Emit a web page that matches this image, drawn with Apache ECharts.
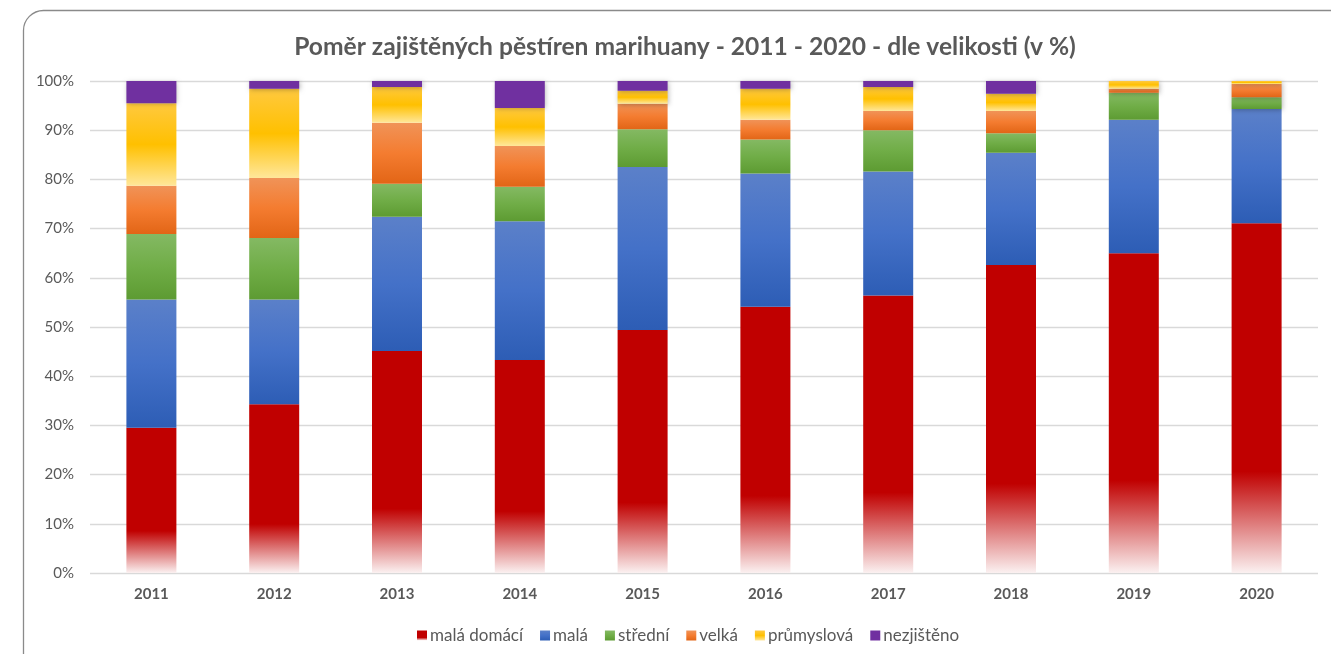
<!DOCTYPE html>
<html>
<head>
<meta charset="utf-8">
<script src="https://cdn.jsdelivr.net/npm/echarts@6/dist/echarts.min.js"></script>
<style>
  html, body { margin: 0; padding: 0; background: #fff; }
  #chart { width: 1331px; height: 654px; }
</style>
</head>
<body>
<div id="chart"></div>
<script>
// roky
var years = ['2011', '2012', '2013', '2014', '2015', '2016', '2017', '2018', '2019', '2020'];

// podíly dle velikosti (v %)
var malaDomaci = [29.5, 34.3, 45.1, 43.3, 49.4, 54.1, 56.4, 62.6, 65.0, 71.1];
var mala       = [26.1, 21.3, 27.3, 28.2, 33.1, 27.1, 25.2, 22.8, 27.1, 23.2];
var stredni    = [13.3, 12.5,  6.7,  7.0,  7.7,  6.9,  8.4,  4.0,  5.5,  2.4];
var velka      = [ 9.8, 12.2, 12.4,  8.3,  5.2,  4.0,  3.9,  4.5,  0.8,  2.7];
var prumyslova = [16.8, 18.1,  7.3,  7.7,  2.6,  6.3,  4.9,  3.5,  1.6,  0.6];
var nezjisteno = [ 4.5,  1.6,  1.2,  5.5,  2.0,  1.6,  1.2,  2.6,  0.0,  0.0];

var yTicks = [0, 10, 20, 30, 40, 50, 60, 70, 80, 90, 100];

var myChart = echarts.init(document.getElementById('chart'));

function grad(stops) {
    return new echarts.graphic.LinearGradient(0, 0, 0, 1, stops.map(function (s) {
        return { offset: s[0], color: s[1] };
    }));
}

var fills = [
    grad([[0, '#c00000'], [0.71, '#c00000'], [1, '#fbf1f1']]),
    grad([[0, '#5b80c9'], [0.5, '#4471c8'], [1, '#2d5db5']]),
    grad([[0, '#84b963'], [0.5, '#70ad47'], [1, '#5d9b32']]),
    grad([[0, '#f09358'], [0.5, '#f47c30'], [1, '#e26516']]),
    grad([[0, '#ffc93f'], [0.5, '#ffc000'], [1, '#ffe79a']]),
    '#7030a0'
];
var names = ['malá domácí', 'malá', 'střední', 'velká', 'průmyslová', 'nezjištěno'];
var values = [malaDomaci, mala, stredni, velka, prumyslova, nezjisteno];

var series = names.map(function (n, i) {
    return {
        name: n,
        type: 'bar',
        stack: 'total',
        barWidth: 50,
        data: values[i],
        itemStyle: {
            color: fills[i],
            shadowColor: 'rgba(0,0,0,0.28)',
            shadowBlur: 5,
            shadowOffsetX: 1,
            shadowOffsetY: 1
        }
    };
});

var font = 'Lato, "Open Sans", sans-serif';

var option = {
    textStyle: { fontFamily: font },
    graphic: [{
        type: 'rect',
        shape: { x: 23.5, y: 10.5, width: 1340, height: 670, r: 20 },
        style: { fill: 'none', stroke: '#8a8a8a', lineWidth: 1.3 },
        silent: true
    }],
    title: {
        text: 'Poměr zajištěných pěstíren marihuany - 2011 - 2020 - dle velikosti (v %)',
        left: 680,
        textAlign: 'center',
        top: 30,
        textStyle: { fontFamily: font, fontSize: 24.6, fontWeight: 'bold', color: '#595959' }
    },
    legend: {
        top: 622,
        left: 412,
        icon: 'rect',
        itemWidth: 10,
        itemHeight: 10,
        itemGap: 17,
        textStyle: { fontFamily: font, fontSize: 17, color: '#595959', padding: [0, 0, 0, -2] },
        data: names
    },
    grid: { left: 90, right: 13, top: 81, bottom: 81 },
    xAxis: {
        type: 'category',
        data: years,
        axisLine: { show: false },
        axisTick: { show: false },
        axisLabel: { fontFamily: font, fontSize: 15, fontWeight: 'bold', color: '#595959', margin: 14 }
    },
    yAxis: {
        type: 'value',
        min: yTicks[0],
        max: yTicks[yTicks.length - 1],
        interval: yTicks[1] - yTicks[0],
        axisLine: { show: false },
        axisTick: { show: false },
        axisLabel: { fontFamily: font, fontSize: 15, color: '#595959', margin: 16, formatter: '{value}%' },
        splitLine: { lineStyle: { color: '#d9d9d9', width: 1.3 } }
    },
    series: series
};

myChart.setOption(option, true);
</script>
</body>
</html>
